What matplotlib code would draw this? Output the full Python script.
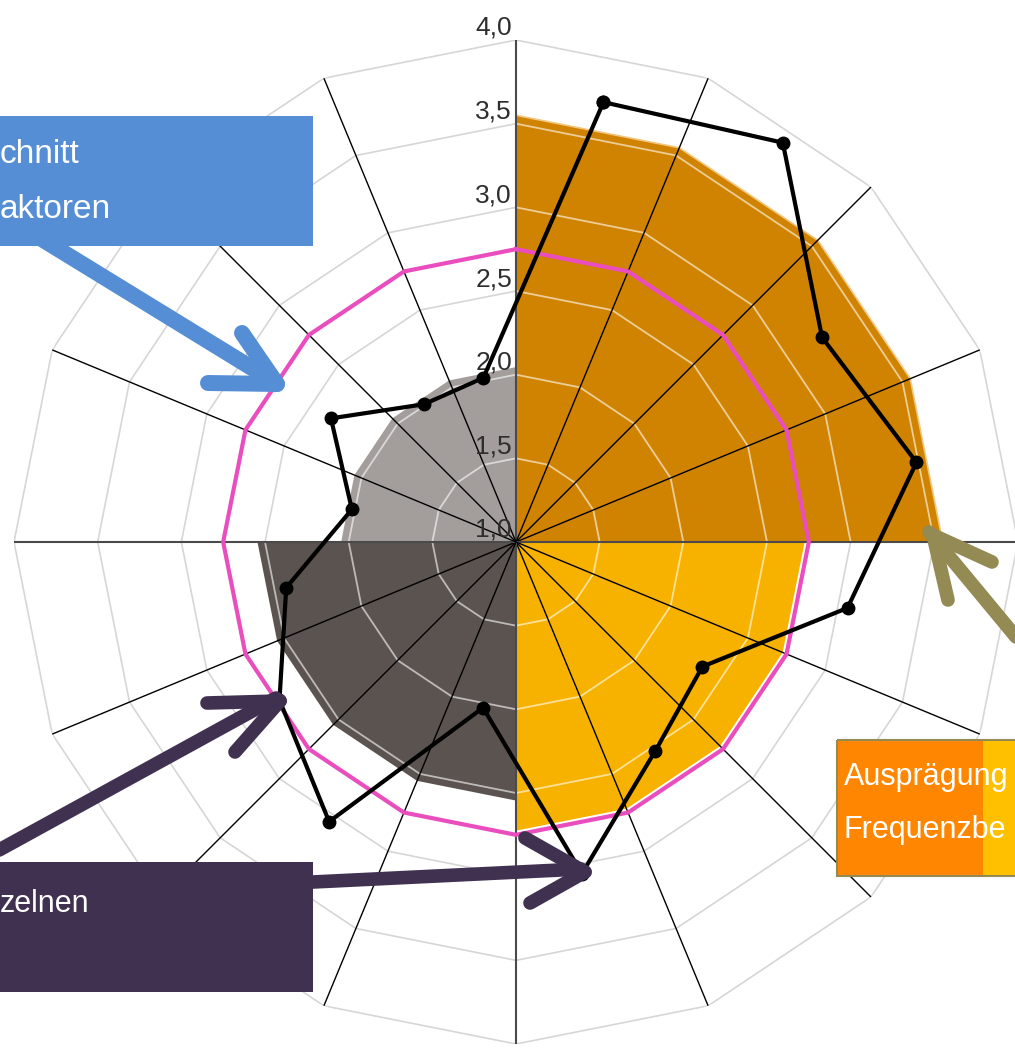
import numpy as np
import matplotlib
matplotlib.use('Agg')
from matplotlib import pyplot as plt
from matplotlib.patches import Rectangle
from matplotlib.transforms import offset_copy

# 16 Achsen, Messpunkte liegen jeweils zwischen zwei Speichen
n_achsen = 16
speichen_grad = np.arange(n_achsen) * 22.5
punkte_grad = speichen_grad + 11.25

# einzelne Faktoren (schwarze Linie)
einzelwerte = [3.68, 3.87, 3.20, 3.44, 3.02, 2.34, 2.50, 3.02,
               2.01, 3.01, 2.70, 2.40, 2.00, 2.33, 1.99, 2.00]

# Durchschnitt aller Faktoren (pinke Linie)
durchschnitt = 2.75

# Ausprägung je Frequenzbereich, im Uhrzeigersinn ab oben
viertel_werte = [3.55, 2.72, 2.54, 2.04]
viertel_farben = ['#D08300', '#F7B200', '#5A5350', '#A39E9C']

ring_werte = [1.5, 2.0, 2.5, 3.0, 3.5, 4.0]
tick_werte = [1.0, 1.5, 2.0, 2.5, 3.0, 3.5, 4.0]
tick_labels = ['1,0', '1,5', '2,0', '2,5', '3,0', '3,5', '4,0']

W, H = 1015, 1049
fig = plt.figure(figsize=(W / 100, H / 100), dpi=100)

# Mittelpunkt (516, 542) px, Radius 502 px
cx, cy, rad = 516, 542, 502
ax = fig.add_axes([(cx - rad) / W, (H - cy - rad) / H, 2 * rad / W, 2 * rad / H],
                  projection='polar')
ax.set_theta_zero_location('N')
ax.set_theta_direction(-1)
ax.set_ylim(1, 4)
ax.axis('off')

ring_th = np.radians(np.append(speichen_grad, 360))

# graue Gitterringe
for rv in ring_werte:
    ax.plot(ring_th, [rv] * len(ring_th), color='#d6d6d6', lw=1.2, zorder=1)

# gefüllte Viertel + weiße Ringe darin
for q, (v, col) in enumerate(zip(viertel_werte, viertel_farben)):
    th = np.radians(90 * q + np.arange(5) * 22.5)
    th_f = np.concatenate([[th[0]], th, [th[-1]]])
    r_f = [1] + [v] * 5 + [1]
    ec = '#F2C67E' if q == 0 else col
    ax.fill(th_f, r_f, facecolor=col, edgecolor=ec, lw=1.2, zorder=2)
    for rv in ring_werte:
        if rv < v:
            ax.plot(th, [rv] * 5, color='white', alpha=0.6, lw=1.3, zorder=3)

# Speichen
for g in speichen_grad:
    if g % 90 == 0:
        ax.plot([np.radians(g)] * 2, [1, 4], color='#4a4a4a', lw=1.5, zorder=4)
    else:
        ax.plot([np.radians(g)] * 2, [1, 4], color='black', lw=1.0, zorder=4)

# Skalenbeschriftung
tr = offset_copy(ax.transData, fig=fig, x=-4, y=5, units='dots')
for tv, tl in zip(tick_werte, tick_labels):
    ax.text(0, tv, tl, transform=tr, ha='right', va='baseline', fontsize=19,
            color='#2e2e2e', family='Liberation Sans', zorder=5)

# Durchschnitt
ax.plot(ring_th, [durchschnitt] * len(ring_th), color='#E94DBE', lw=3.0, zorder=6)

# einzelne Faktoren
pth = np.radians(np.append(punkte_grad, punkte_grad[0]))
pr = einzelwerte + [einzelwerte[0]]
ax.plot(pth, pr, color='black', lw=3.0, marker='o', markersize=9, zorder=7)

# Overlay für Kästen und Pfeile (Pixelkoordinaten)
ov = fig.add_axes([0, 0, 1, 1])
ov.set_xlim(0, W)
ov.set_ylim(H, 0)
ov.axis('off')

schrift = 'Liberation Sans'


def pfeil(shaft, arms, col, lw):
    kw = dict(color=col, lw=lw, solid_capstyle='round', zorder=3)
    ov.plot([shaft[0][0], shaft[1][0]], [shaft[0][1], shaft[1][1]], **kw)
    for a in arms:
        ov.plot([a[0], shaft[1][0] + 4], [a[1], shaft[1][1] + 3], **kw)


blau = '#558ED5'
lila = '#403151'
oliv = '#948A54'

pfeil([(40, 238), (273, 381)], [(242, 333), (208, 383)], blau, 11.5)
pfeil([(-10, 855), (276, 698)], [(207, 703), (235, 752)], lila, 9.8)
pfeil([(313, 882), (581, 869)], [(525, 838), (530, 903)], lila, 9.8)
pfeil([(1045, 672), (929, 532)], [(992, 562), (948, 600)], oliv, 9.8)

ov.add_patch(Rectangle((-5, 116), 318, 130, facecolor=blau, edgecolor='none', zorder=4))
ov.text(0, 163, 'chnitt', color='white', fontsize=24, family=schrift, va='baseline', zorder=5)
ov.text(0, 218, 'aktoren', color='white', fontsize=24, family=schrift, va='baseline', zorder=5)

ov.add_patch(Rectangle((-5, 862), 318, 130, facecolor=lila, edgecolor='none', zorder=4))
ov.text(0, 912, 'zelnen', color='white', fontsize=22, family=schrift, va='baseline', zorder=5)

ov.add_patch(Rectangle((837, 740), 146, 136, facecolor='#FF8600', edgecolor='none', zorder=4))
ov.add_patch(Rectangle((983, 740), 40, 136, facecolor='#FFC000', edgecolor='none', zorder=4))
ov.add_patch(Rectangle((837, 740), 190, 136, facecolor='none', edgecolor=oliv, lw=1.5, zorder=5))
ov.text(844, 785, 'Ausprägung', color='white', fontsize=22, family=schrift, va='baseline', zorder=6)
ov.text(844, 838, 'Frequenzbe', color='white', fontsize=22, family=schrift, va='baseline', zorder=6)

fig.savefig('out.png', dpi=100)
